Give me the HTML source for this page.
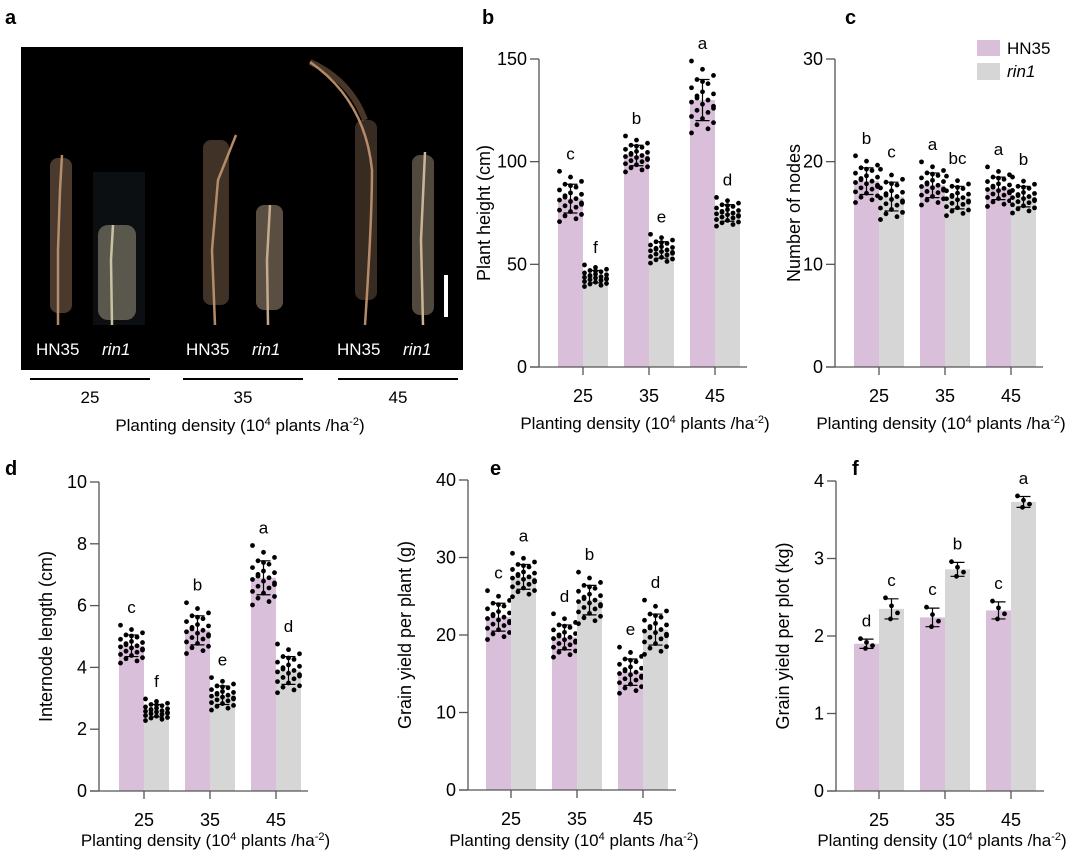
<!DOCTYPE html>
<html><head><meta charset="utf-8"><style>
html,body{margin:0;padding:0;background:#fff;}
svg{display:block;font-family:"Liberation Sans",Arial,sans-serif;}
</style></head><body>
<svg id="fig" width="1080" height="858" viewBox="0 0 1080 858">
<g>
<text x="5" y="24" font-size="20" font-weight="bold">a</text>
<rect x="21" y="47" width="442" height="323" fill="#000"/>
<rect x="93" y="172" width="52" height="153" fill="#0c0f12"/>
<g stroke="#b48a66" stroke-width="2.5" fill="none">
<path d="M58 325 L58 250 L60 190 L62 155"/>
<path d="M112 325 L111 260 L113 225" stroke="#c9c0a0"/>
<path d="M215 325 L212 250 L218 180 L236 135"/>
<path d="M268 325 L267 260 L270 205" stroke="#c2a88a"/>
<path d="M365 325 Q372 220 372 170 Q365 100 310 62"/>
<path d="M423 325 L421 240 L425 152" stroke="#c9b49a"/>
</g>
<g fill="#b89070">
<rect x="50" y="158" width="22" height="155" rx="8" opacity="0.4"/>
<rect x="98" y="225" width="38" height="95" rx="10" fill="#cfc6a8" opacity="0.4"/>
<rect x="203" y="140" width="26" height="165" rx="8" opacity="0.35"/>
<rect x="256" y="205" width="27" height="105" rx="8" fill="#c8ae92" opacity="0.45"/>
<rect x="355" y="120" width="22" height="180" rx="8" opacity="0.3"/>
<rect x="412" y="155" width="22" height="160" rx="8" fill="#ccb69c" opacity="0.4"/>
<path d="M310 62 Q350 80 365 120" stroke="#b48a66" stroke-width="6" fill="none" opacity="0.4"/>
</g>
<rect x="444" y="275" width="4" height="42" fill="#fff"/>
<g fill="#fff" font-size="17">
<text x="36" y="355">HN35</text><text x="102" y="355" font-style="italic">rin1</text>
<text x="186" y="355">HN35</text><text x="252" y="355" font-style="italic">rin1</text>
<text x="337" y="355">HN35</text><text x="403" y="355" font-style="italic">rin1</text>
</g>
<g stroke="#000" stroke-width="2">
<line x1="30" y1="379" x2="150" y2="379"/><line x1="183" y1="379" x2="303" y2="379"/><line x1="338" y1="379" x2="458" y2="379"/>
</g>
<g font-size="17" text-anchor="middle">
<text x="90" y="403">25</text><text x="243" y="403">35</text><text x="398" y="403">45</text>
<text x="240" y="431">Planting density (10<tspan dy="-6" font-size="11">4</tspan><tspan dy="6"> plants /ha</tspan><tspan dy="-6" font-size="11">-2</tspan><tspan dy="6">)</tspan></text>
</g>
</g>
<g>
<rect x="977" y="40" width="23" height="16" fill="#d9bfd9"/>
<text x="1007" y="54" font-size="17">HN35</text>
<rect x="977" y="63" width="23" height="17" fill="#d6d6d6"/>
<text x="1007" y="77" font-size="17" font-style="italic">rin1</text>
</g>
</svg>
<script>
const categories = ["25","35","45"];
const bHN35 = [82,103,130], bRin1 = [44,57,75];
const bHN35sd = [7,5,10], bRin1sd = [3,4,4];
const bLetters = ["c","f","b","e","a","d"];
const bTicks = [0,50,100,150];
const cHN35 = [18.1,17.7,17.4], cRin1 = [16.6,16.5,16.6];
const cHN35sd = [1.3,1.2,1.1], cRin1sd = [1.4,1.1,1.0];
const cLetters = ["b","c","a","bc","a","b"];
const cTicks = [0,10,20,30];
const dHN35 = [4.7,5.2,6.9], dRin1 = [2.6,3.1,3.9];
const dHN35sd = [0.35,0.47,0.55], dRin1sd = [0.2,0.3,0.45];
const dLetters = ["c","f","b","e","a","d"];
const dTicks = [0,2,4,6,8,10];
const eHN35 = [22.3,19.7,15.2], eRin1 = [27.5,24.5,20.7];
const eHN35sd = [1.8,1.6,1.7], eRin1sd = [1.6,1.9,2.0];
const eLetters = ["c","a","d","b","e","d"];
const eTicks = [0,10,20,30,40];
const fHN35 = [1.9,2.24,2.33], fRin1 = [2.35,2.86,3.73];
const fHN35sd = [0.06,0.12,0.11], fRin1sd = [0.13,0.09,0.07];
const fLetters = ["d","c","c","b","c","a"];
const fTicks = [0,1,2,3,4];
const zPattern = [1.9,1.5,1.2,1.0,0.8,0.6,0.4,0.3,0.1,0,-0.1,-0.2,-0.3,-0.5,-0.6,-0.8,-0.9,-1.1,-1.2,-1.4,-1.6,0.9,-0.4,0.2];
const zPattern4 = [1.1,0.3,-0.4,-1.0];

const NS="http://www.w3.org/2000/svg";
const svg=document.getElementById('fig');
function mk(tag,attrs,parent){const e=document.createElementNS(NS,tag);for(const k in attrs)e.setAttribute(k,attrs[k]);(parent||svg).appendChild(e);return e;}

function panel(cfg){
  const g=mk('g',{});
  
  
  const y0=cfg.y0,y1=cfg.y1,ax=cfg.ax,vmax=cfg.ticks[cfg.ticks.length-1];
  const ys=v=>y0-(v/vmax)*(y0-y1);
  const xs=i=>cfg.t0+i*66;
  const bw=25;
  const lt=mk('text',{x:cfg.lx,y:cfg.ly,'font-size':20,'font-weight':'bold'},g);lt.textContent=cfg.letter;
  
  
  const series=[[cfg.h,cfg.hsd,'#d9bfd9',-bw,'hn35'],[cfg.r,cfg.rsd,'#d6d6d6',0,'rin1']];
  categories.forEach((c,i)=>{
    series.forEach((s,si)=>{
      const m=s[0][i],sd=s[1][i];
      const x=xs(i)+s[3];
      const b=mk('rect',{x:x,y:ys(m),width:bw,height:y0-ys(m),fill:s[2]},g);
      
      
      const cx=x+bw/2;
      const pat=cfg.n4?zPattern4:zPattern;
      let top=m+sd;
      pat.forEach((z,k)=>{
        const v=m+sd*z;top=Math.max(top,v);
        const off=cfg.n4?[-6,0,6,-1][k]:((k*7)%5-2)*5.5;
        const d=mk('circle',{cx:cx+off,cy:ys(v),r:2.4,fill:'#000'},g);
        
        
      });
      const eb=mk('path',{d:`M${cx} ${ys(m-sd)}V${ys(m+sd)}M${cx-7} ${ys(m-sd)}h14M${cx-7} ${ys(m+sd)}h14`,stroke:'#000','stroke-width':1.2,fill:'none'},g);
      
      
      const t=mk('text',{x:cx,y:ys(top)-12,'font-size':17,'text-anchor':'middle'},g);
      t.textContent=cfg.lets[i*2+si];
      
      
    });
  });
  const axc='#555';
  const ya=mk('line',{x1:ax,y1:y1,x2:ax,y2:y0,stroke:axc,'stroke-width':1.3},g);
  
  const xa=mk('line',{x1:ax-9,y1:y0,x2:cfg.xend,y2:y0,stroke:axc,'stroke-width':1.3},g);
  
  cfg.ticks.forEach(v=>{
    mk('line',{x1:ax-9,x2:ax,y1:ys(v),y2:ys(v),stroke:axc,'stroke-width':1.3},g);
    const t=mk('text',{x:ax-12,y:ys(v)+6,'font-size':18,'text-anchor':'end'},g);t.textContent=v;
    
  });
  categories.forEach((c,i)=>{
    mk('line',{x1:xs(i),x2:xs(i),y1:y0,y2:y0+8,stroke:axc,'stroke-width':1.3},g);
    const t=mk('text',{x:xs(i),y:y0+35,'font-size':18,'text-anchor':'middle'},g);t.textContent=c;
    
  });
  const yt=mk('text',{x:0,y:0,'font-size':18,'text-anchor':'middle',transform:`translate(${cfg.ytx},${(y0+y1)/2}) rotate(-90)`},g);
  yt.textContent=cfg.ytitle;
  
  const xt=mk('text',{x:(ax+cfg.xend)/2+2,y:y0+cfg.xty,'font-size':17,'text-anchor':'middle'},g);
  xt.innerHTML='Planting density (10<tspan dy="-6" font-size="11">4</tspan><tspan dy="6"> plants /ha</tspan><tspan dy="-6" font-size="11">-2</tspan><tspan dy="6">)</tspan>';
  
}
panel({name:'panel-b-plant-height',letter:'b',lx:482,ly:24,ax:539,t0:583,xend:747,y0:367,y1:59,xty:62,ticks:bTicks,h:bHN35,r:bRin1,hsd:bHN35sd,rsd:bRin1sd,lets:bLetters,ytitle:'Plant height (cm)',ytx:490});
panel({name:'panel-c-nodes',letter:'c',lx:845,ly:24,ax:835,t0:879,xend:1043,y0:367,y1:59,xty:62,ticks:cTicks,h:cHN35,r:cRin1,hsd:cHN35sd,rsd:cRin1sd,lets:cLetters,ytitle:'Number of nodes',ytx:800});
panel({name:'panel-d-internode',letter:'d',lx:5,ly:475,ax:99,t0:144,xend:308,y0:791,y1:482,xty:55,ticks:dTicks,h:dHN35,r:dRin1,hsd:dHN35sd,rsd:dRin1sd,lets:dLetters,ytitle:'Internode length (cm)',ytx:52});
panel({name:'panel-e-grain-per-plant',letter:'e',lx:490,ly:475,ax:468,t0:511,xend:676,y0:790,y1:480,xty:56,ticks:eTicks,h:eHN35,r:eRin1,hsd:eHN35sd,rsd:eRin1sd,lets:eLetters,ytitle:'Grain yield per plant (g)',ytx:411});
panel({name:'panel-f-grain-per-plot',letter:'f',lx:852,ly:475,ax:836,t0:879,xend:1044,y0:791,y1:481,xty:55,ticks:fTicks,h:fHN35,r:fRin1,hsd:fHN35sd,rsd:fRin1sd,lets:fLetters,n4:true,ytitle:'Grain yield per plot (kg)',ytx:789});
</script>
</body></html>
